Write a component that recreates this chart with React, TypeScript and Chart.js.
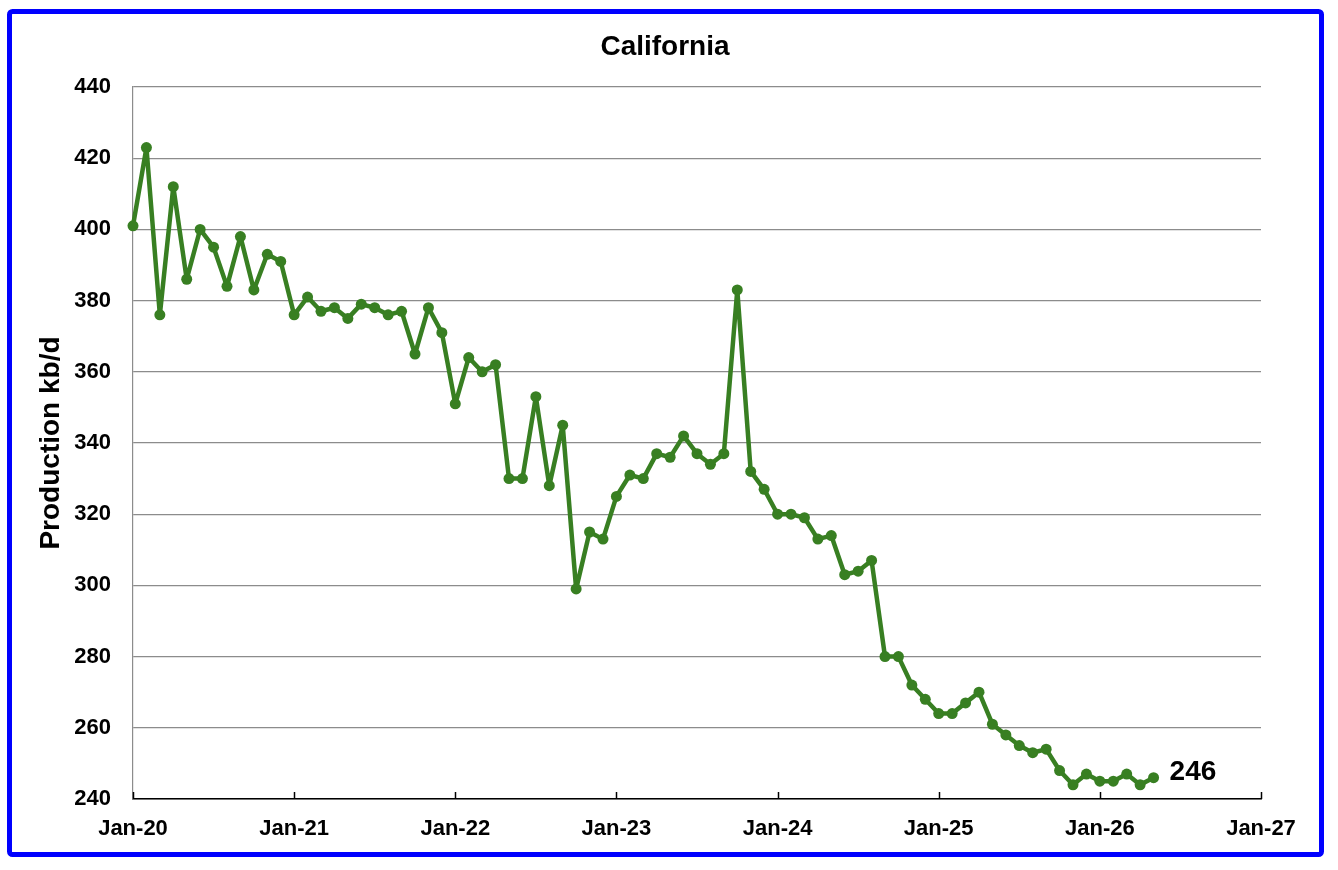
import React, { useEffect, useRef } from "react";
import { Chart, registerables } from "chart.js";

Chart.register(...registerables);

const chartTitle = "California";
const yAxisTitle = "Production kb/d";
const lastLabel = "246";

// Monthly production, Jan-20 .. May-26 (kb/d)
const production2020 = [401, 423, 376, 412, 386, 400, 395, 384, 398, 383, 393, 391];
const production2021 = [376, 381, 377, 378, 375, 379, 378, 376, 377, 365, 378, 371];
const production2022 = [351, 364, 360, 362, 330, 330, 353, 328, 345, 299, 315, 313];
const production2023 = [325, 331, 330, 337, 336, 342, 337, 334, 337, 383, 332, 327];
const production2024 = [320, 320, 319, 313, 314, 303, 304, 307, 280, 280, 272, 268];
const production2025 = [264, 264, 267, 270, 261, 258, 255, 253, 254, 248, 244, 247];
const production2026 = [245, 245, 247, 244, 246];

const production = [
  ...production2020,
  ...production2021,
  ...production2022,
  ...production2023,
  ...production2024,
  ...production2025,
  ...production2026,
];

const xTickLabels = ["Jan-20", "Jan-21", "Jan-22", "Jan-23", "Jan-24", "Jan-25", "Jan-26", "Jan-27"];

const yMin = 240;
const yMax = 440;
const yStep = 20;

const FONT = 'Arial, "Liberation Sans", Helvetica, sans-serif';
const GREEN = "#387F22";

export default function App() {
  const canvasRef = useRef<HTMLCanvasElement | null>(null);

  useEffect(() => {
    document.body.style.margin = "0";
    const canvas = canvasRef.current;
    if (!canvas) return;

    const frame = {
      id: "frame",
      beforeDraw(chart: any) {
        const ctx = chart.ctx;
        ctx.save();
        ctx.fillStyle = "#ffffff";
        ctx.fillRect(0, 0, chart.width, chart.height);
        ctx.strokeStyle = "#0000FF";
        ctx.lineWidth = 5;
        ctx.beginPath();
        if ((ctx as any).roundRect) {
          (ctx as any).roundRect(9.5, 11.5, 1312, 843, 3);
        } else {
          ctx.rect(9.5, 11.5, 1312, 843);
        }
        ctx.stroke();
        // chart title
        ctx.fillStyle = "#000000";
        ctx.font = `bold 28px ${FONT}`;
        ctx.textAlign = "center";
        ctx.textBaseline = "alphabetic";
        ctx.fillText(chartTitle, 665, 55);
        ctx.restore();
      },
      afterDraw(chart: any) {
        const ctx = chart.ctx;
        const xs = chart.scales.x;
        const area = chart.chartArea;
        ctx.save();
        ctx.strokeStyle = "#000000";
        ctx.lineWidth = 1.5;
        xs.ticks.forEach((t: any) => {
          const px = Math.round(xs.getPixelForValue(t.value)) + 0.5;
          ctx.beginPath();
          ctx.moveTo(px, area.bottom);
          ctx.lineTo(px, area.bottom - 7);
          ctx.stroke();
        });
        // last value label
        const meta = chart.getDatasetMeta(0);
        const last = meta.data[meta.data.length - 1];
        ctx.fillStyle = "#000000";
        ctx.font = `bold 28px ${FONT}`;
        ctx.textAlign = "left";
        ctx.textBaseline = "middle";
        ctx.fillText(lastLabel, last.x + 16, last.y - 5);
        ctx.restore();
      },
    };

    const chart = new Chart(canvas, {
      type: "line",
      data: {
        datasets: [
          {
            data: production.map((v, i) => ({ x: i, y: v })),
            borderColor: GREEN,
            backgroundColor: GREEN,
            borderWidth: 4.5,
            borderJoinStyle: "round",
            borderCapStyle: "round",
            pointRadius: 5.5,
            pointBorderWidth: 0,
            pointBackgroundColor: GREEN,
            tension: 0,
            clip: false as any,
          },
        ],
      },
      options: {
        animation: false,
        responsive: false,
        maintainAspectRatio: false,
        layout: { padding: { top: 87, left: 0, right: 77, bottom: 27 } },
        plugins: {
          legend: { display: false },
          tooltip: { enabled: false },
          title: { display: false },
        },
        scales: {
          x: {
            type: "linear",
            min: 0,
            max: 84,
            afterFit: (s: any) => {
              s.height = 40;
            },
            afterBuildTicks: (s: any) => {
              s.ticks = xTickLabels.map((_, i) => ({ value: i * 12 }));
            },
            ticks: {
              stepSize: 12,
              autoSkip: false,
              maxRotation: 0,
              padding: 17,
              color: "#000000",
              font: { family: FONT, size: 22, weight: "bold" },
              callback: (v: any) => xTickLabels[Math.round(Number(v) / 12)] ?? "",
            },
            grid: { display: false, drawTicks: false },
            border: { display: true, color: "#000000", width: 1.5 },
          },
          y: {
            min: yMin,
            max: yMax,
            afterFit: (s: any) => {
              s.width = 133;
            },
            ticks: {
              stepSize: yStep,
              padding: 22,
              color: "#000000",
              font: { family: FONT, size: 22, weight: "bold" },
            },
            grid: { color: "#8c8c8c", lineWidth: 1.2, drawTicks: false },
            border: { display: true, color: "#8c8c8c", width: 1.2 },
            title: {
              display: true,
              text: yAxisTitle,
              color: "#000000",
              font: { family: FONT, size: 28, weight: "bold" },
              padding: { top: 34, bottom: 0 },
            },
          },
        },
      },
      plugins: [frame],
    });

    return () => chart.destroy();
  }, []);

  return (
    <div style={{ width: 1338, height: 866 }}>
      <canvas ref={canvasRef} width={1338} height={866} style={{ display: "block" }} />
    </div>
  );
}
